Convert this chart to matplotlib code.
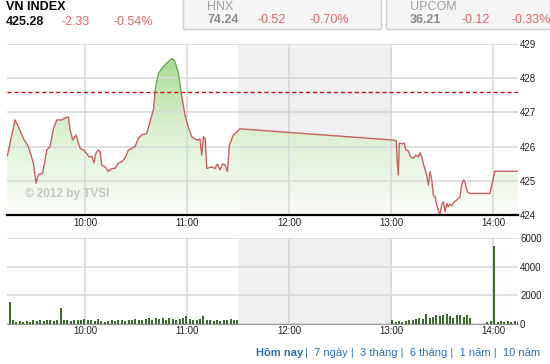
import numpy as np
import matplotlib
matplotlib.use("Agg")
import matplotlib.pyplot as plt
from matplotlib.colors import LinearSegmentedColormap
from matplotlib.patches import Polygon, Rectangle

plt.rcParams['font.family'] = ['Liberation Sans', 'DejaVu Sans']

# header quotes
vn_index = ["425.28", "-2.33", "-0.54%"]
hnx = ["74.24", "-0.52", "-0.70%"]
upcom = ["36.21", "-0.12", "-0.33%"]
reference = 427.61

# intraday VN-Index (time "H:MM.m", value)
price_times = [
    "9:14.3", "9:18.8", "9:20.8", "9:23.7", "9:26.7", "9:29.6", "9:31.2", "9:32.5",
    "9:35.1", "9:37.5", "9:39.4", "9:41.4", "9:43.4", "9:46.3", "9:49.2", "9:50.2",
    "9:51.2", "9:52.8", "9:54.7", "9:56.1", "9:57.1", "9:59.0", "10:01.0", "10:02.5",
    "10:03.9", "10:05.3", "10:06.3", "10:07.8", "10:08.8", "10:09.8", "10:11.8", "10:13.7",
    "10:15.7", "10:17.6", "10:19.6", "10:21.6", "10:23.5", "10:25.5", "10:27.5", "10:29.4",
    "10:31.3", "10:33.3", "10:36.3", "10:38.2", "10:40.2", "10:41.2", "10:43.1", "10:46.0",
    "10:48.0", "10:50.0", "10:51.3", "10:52.9", "10:54.9", "10:56.9", "10:58.8", "11:00.7",
    "11:02.7", "11:05.7", "11:07.6", "11:08.6", "11:09.6", "11:10.6", "11:11.6", "11:14.5",
    "11:16.4", "11:17.8", "11:19.4", "11:20.9", "11:22.3", "11:23.7", "11:24.9", "11:27.2",
    "11:29.6", "11:31.0",
    "13:01.3", "13:03.0", "13:03.6", "13:04.2", "13:04.8", "13:06.8", "13:07.6", "13:08.7",
    "13:10.0", "13:11.5", "13:13.0", "13:14.6", "13:16.0", "13:17.0", "13:18.0", "13:18.9",
    "13:20.9", "13:21.9", "13:22.9", "13:23.9", "13:24.8", "13:25.8", "13:26.8", "13:27.7",
    "13:28.7", "13:29.7", "13:30.7", "13:31.7", "13:32.7", "13:33.6", "13:34.6", "13:35.6",
    "13:36.6", "13:38.6", "13:40.5", "13:41.5", "13:42.5", "13:43.4", "13:44.8", "13:46.4",
    "13:58.1", "14:01.0", "14:14.6",
]
price_values = [
    425.73, 426.78, 426.58, 426.24, 426.00, 425.52, 424.93, 425.17,
    425.23, 425.90, 426.00, 426.53, 426.78, 426.78, 426.86, 426.86,
    426.49, 426.19, 426.34, 426.10, 425.95, 425.90, 425.80, 425.69,
    425.72, 425.53, 425.80, 425.90, 425.85, 425.46, 425.41, 425.27,
    425.36, 425.36, 425.51, 425.56, 425.66, 425.90, 425.95, 426.00,
    426.24, 426.34, 426.39, 426.73, 427.07, 427.65, 428.14, 428.34,
    428.44, 428.53, 428.58, 428.48, 428.14, 427.46, 426.92, 426.58,
    426.29, 426.19, 426.22, 425.75, 426.29, 426.24, 425.36, 425.41,
    425.36, 425.49, 425.32, 425.49, 425.46, 425.27, 426.05, 426.34,
    426.44, 426.52,
    426.19, 426.17, 425.56, 425.17, 426.10, 426.08, 426.11, 425.90,
    425.88, 425.70, 425.66, 425.75, 425.70, 425.82, 425.70, 425.51,
    425.17, 424.88, 425.27, 425.02, 424.58, 424.55, 424.29, 424.15,
    424.00, 424.29, 424.39, 424.10, 424.34, 424.24, 424.32, 424.27,
    424.36, 424.44, 424.53, 424.88, 425.02, 424.97, 424.68, 424.63,
    424.63, 425.28, 425.28,
]

# volume, 2-minute bars
vol_morning_start = "9:15"
vol_morning = [
    1550, 250, 150, 200, 150, 200, 150, 250, 200, 300, 200, 250, 300, 200, 250, 1150,
    250, 300, 200, 250, 300, 250, 350, 250, 300, 200, 350, 200, 150, 200, 250, 200,
    250, 300, 200, 250, 300, 350, 250, 300, 350, 450, 300, 400, 350, 450, 300, 400,
    350, 300, 350, 450, 550, 350, 300, 250, 350, 550, 250, 300, 200, 250, 200, 250,
    300, 350, 300, 250,
]
vol_afternoon_start = "13:00"
vol_afternoon = [
    250, 150, 200, 150, 200, 250, 300, 350, 400, 350, 700, 450, 500, 600, 550, 650,
    700, 550, 400, 600, 650, 500, 600, 450, 0, 0, 0, 0, 150, 200, 5450, 150,
    200, 150, 200, 150, 200, 150,
]

hour_ticks = [10, 11, 12, 13, 14]
hour_labels = ["10:00", "11:00", "12:00", "13:00", "14:00"]
price_ticks = [424, 425, 426, 427, 428, 429]
vol_ticks = [0, 2000, 4000, 6000]


def hrs(s):
    h, m = s.split(':')
    return int(h) + float(m) / 60


W, H = 550, 364


def fx(px):
    return px / W


def fy(py):
    return 1 - py / H


t = np.array([hrs(s) for s in price_times])
p = np.array(price_values)
x0, x1 = hrs("9:14.1"), hrs("14:14.6")
lunch = (11.5, 13.0)
grid_c = '#d9d9d9'

fig = plt.figure(figsize=(W / 100, H / 100), dpi=100)
fig.patch.set_facecolor('white')

# ---- price chart
ax = fig.add_axes([fx(7), fy(215), fx(518) - fx(7), fy(44) - fy(215)])
ax.axvspan(*lunch, color='#f0f0f0', zorder=0, lw=0)

cmap = LinearSegmentedColormap.from_list('g', ['#fbfdf9', '#d8f0cc', '#93d27a'])
grad = np.linspace(0, 1, 256).reshape(-1, 1)
im = ax.imshow(grad, extent=[x0, x1, 424, 429], origin='lower', aspect='auto',
               cmap=cmap, zorder=1, alpha=0.9)
verts = [(t[0], 424)] + list(zip(t, p)) + [(t[-1], 424)]
poly = Polygon(verts, closed=True, facecolor='none', edgecolor='none')
ax.add_patch(poly)
im.set_clip_path(poly)

for v in price_ticks:
    ax.axhline(v, color=grid_c, lw=1.2, zorder=1.5)
for h in hour_ticks:
    ax.axvline(h, color=grid_c, lw=1.2, zorder=1.5)

ax.axhline(reference, color='#cc1111', lw=1, ls=(0, (3, 2)), zorder=2)

red_line, = ax.plot(t, p, color='#c95f5f', lw=1, zorder=3)
green_line, = ax.plot(t, p, color='#6aae55', lw=1, zorder=3)
red_line.set_clip_path(Rectangle((x0, 424), x1 - x0, reference - 424, transform=ax.transData))
green_line.set_clip_path(Rectangle((x0, reference), x1 - x0, 429 - reference, transform=ax.transData))

ax.set_xlim(x0, x1)
ax.set_ylim(424, 429)
ax.set_xticks(hour_ticks)
ax.set_xticklabels(hour_labels)
ax.set_yticks(price_ticks)
ax.yaxis.tick_right()
ax.tick_params(length=0, labelsize=7, colors='#222222', pad=2)
ax.tick_params(axis='y', pad=1.5)
for s in ['top', 'left', 'right']:
    ax.spines[s].set_visible(False)
ax.spines['bottom'].set_color('black')
ax.spines['bottom'].set_linewidth(1.6)
ax.spines['bottom'].set_zorder(4)

fig.text(fx(25), fy(194), "© 2012 by TVSI", fontsize=8.5, fontweight='bold',
         color='#c2c2c2', va='center', ha='left')

# ---- volume chart
av = fig.add_axes([fx(7), fy(324), fx(518) - fx(7), fy(238) - fy(324)])
av.axvspan(*lunch, color='#f0f0f0', zorder=0, lw=0)
for v in vol_ticks:
    av.axhline(v, color=grid_c, lw=1.2, zorder=0.5)
for h in hour_ticks:
    av.axvline(h, color=grid_c, lw=1.2, zorder=0.5)

tm = hrs(vol_morning_start) + np.arange(len(vol_morning)) * 2 / 60
ta = hrs(vol_afternoon_start) + np.arange(len(vol_afternoon)) * 2 / 60
av.bar(tm, vol_morning, width=1.2 / 60, align='edge', color='#3c6b2c', lw=0, zorder=2)
av.bar(ta, vol_afternoon, width=1.2 / 60, align='edge', color='#3c6b2c', lw=0, zorder=2)

av.set_xlim(x0, x1)
av.set_ylim(0, 6000)
av.set_xticks(hour_ticks)
av.set_xticklabels(hour_labels)
av.set_yticks(vol_ticks)
av.yaxis.tick_right()
av.tick_params(length=0, labelsize=7, colors='#222222', pad=1.5)
for s in ['top', 'left', 'right']:
    av.spines[s].set_visible(False)
av.spines['bottom'].set_color('#9a9a9a')

# ---- header
red = '#e06666'
fig.text(fx(6), fy(10), "VN INDEX", fontsize=9, fontweight='bold', color='black', va='baseline')
fig.text(fx(6), fy(25), vn_index[0], fontsize=9, fontweight='bold', color='#111111', va='baseline')
fig.text(fx(62), fy(25), vn_index[1], fontsize=9, color=red, va='baseline')
fig.text(fx(113), fy(25), vn_index[2], fontsize=9, color=red, va='baseline')

for left, right, name, vals in [(183, 381, "HNX", hnx), (386, 550, "UPCOM", upcom)]:
    fig.add_artist(Rectangle((fx(left), fy(29)), fx(right) - fx(left), fy(-2) - fy(29),
                             transform=fig.transFigure, facecolor='#f5f5f5',
                             edgecolor='#cfcfcf', lw=1))
    tx = left + 24
    fig.text(fx(tx), fy(9.5), name, fontsize=9, color='#a0a0a0', va='baseline')
    fig.text(fx(tx), fy(23), vals[0], fontsize=9, fontweight='bold', color='#8a8a8a', va='baseline')
    fig.text(fx(tx + 51), fy(23), vals[1], fontsize=9, color=red, va='baseline')
    fig.text(fx(tx + 102), fy(23), vals[2], fontsize=9, color=red, va='baseline')

# ---- period links
blue = '#2f6fb5'
fig.text(fx(303), fy(356), "Hôm nay", fontsize=8, fontweight='bold', color=blue,
         ha='right', va='baseline')
fig.text(fx(305), fy(356), "|  7 ngày |  3 tháng |  6 tháng |  1 năm |  10 năm",
         fontsize=8, color=blue, ha='left', va='baseline')

fig.savefig("out.png", dpi=100)
